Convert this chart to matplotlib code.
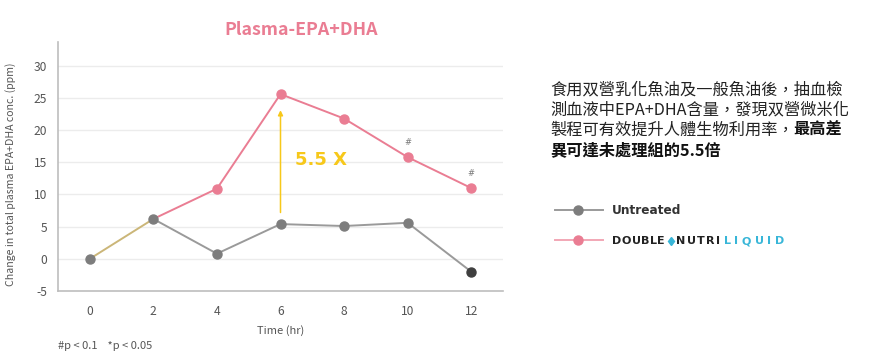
import matplotlib
matplotlib.use("Agg")
import matplotlib.pyplot as plt

plt.rcParams['font.family'] = ['Noto Sans CJK TC', 'DejaVu Sans']

time_hr = [0, 2, 4, 6, 8, 10, 12]
untreated = [0.0, 6.2, 0.8, 5.4, 5.1, 5.6, -2.0]
liquid = [0.0, 6.2, 10.9, 25.6, 21.8, 15.8, 11.0]
x_ticks = [0, 2, 4, 6, 8, 10, 12]
y_ticks = [-5, 0, 5, 10, 15, 20, 25, 30]
sig_times = [10, 12]
fold_label = "5.5 X"

W, H = 869, 359
fig = plt.figure(figsize=(W / 100, H / 100), dpi=100)
fig.patch.set_facecolor('white')

def fx(px):
    return px / W

def fy(py):
    return 1 - py / H

ax = fig.add_axes([fx(58), fy(291), fx(503) - fx(58), fy(42) - fy(291)])

PINK = '#ea7d93'
GRAY_LINE = '#9a9a9a'
GRAY_MK = '#7d7d7d'
TAN = '#cbb678'
GOLD = '#f7c81a'
CYAN = '#38b6d8'

ax.set_xlim(-1, 13)
ax.set_ylim(-5, 33.7)
for yv in y_ticks[1:]:
    ax.axhline(yv, color='#ececec', lw=1.0, zorder=0)

# lines
ax.plot(time_hr[1:], liquid[1:], color=PINK, lw=1.4, zorder=2)
ax.plot(time_hr[1:], untreated[1:], color=GRAY_LINE, lw=1.4, zorder=2)
ax.plot(time_hr[:2], untreated[:2], color=TAN, lw=1.4, zorder=2)

# markers
ax.plot(time_hr[2:], liquid[2:], 'o', color=PINK, ms=6.5, mec=PINK, zorder=3)
ax.plot(time_hr[:-1], untreated[:-1], 'o', color=GRAY_MK, ms=6.5, mec=GRAY_MK, zorder=4)
ax.plot(time_hr[-1:], untreated[-1:], 'o', color='#3f3f3f', ms=6.5, mec='#3f3f3f', zorder=4)

# significance marks
for t in sig_times:
    i = time_hr.index(t)
    ax.annotate('#', (t, liquid[i]), xytext=(0, 7), textcoords='offset points',
                ha='center', va='bottom', fontsize=6, color='#777777',
                family='DejaVu Sans')

# arrow
ax.annotate('', xy=(6, 23.1), xytext=(6, 7.2),
            arrowprops=dict(arrowstyle='-|>', color=GOLD, lw=1.1,
                            mutation_scale=7, shrinkA=0, shrinkB=0), zorder=1)
ax.text(6.45, 15.3, fold_label, color=GOLD, fontsize=13, fontweight='bold',
        va='center', ha='left', family='DejaVu Sans')

# axes styling
for s in ['top', 'right']:
    ax.spines[s].set_visible(False)
ax.spines['left'].set_color('#bdbdbd')
ax.spines['bottom'].set_color('#bdbdbd')
ax.spines['left'].set_linewidth(1.2)
ax.spines['bottom'].set_linewidth(1.2)
ax.set_xticks(x_ticks)
ax.set_yticks(y_ticks)
ax.set_yticklabels([str(v) for v in y_ticks])
ax.tick_params(length=0, labelsize=8.7, colors='#555555', pad=10)
ax.tick_params(axis='y', pad=8)
ax.set_xlabel('Time (hr)', fontsize=8, color='#555555', labelpad=5)
ax.set_ylabel('Change in total plasma EPA+DHA conc. (ppm)', fontsize=7.6,
              color='#555555', labelpad=8)
ax.yaxis.set_label_coords(-0.095, 0.47)

# title
fig.text(fx(301), fy(30), 'Plasma-EPA+DHA', color=PINK, fontsize=12.8,
         fontweight='bold', ha='center', va='center')

# footnote
fig.text(fx(58), fy(346), '#p < 0.1    *p < 0.05', fontsize=8, color='#555555',
         ha='left', va='center')

# right-side description
fs = 11.7
lines_y = [90, 110, 130, 150]
fig.text(fx(550), fy(lines_y[0]), '食用双營乳化魚油及一般魚油後，抽血檢', fontsize=fs,
         color='#222222', ha='left', va='center')
fig.text(fx(550), fy(lines_y[1]), '測血液中EPA+DHA含量，發現双營微米化', fontsize=fs,
         color='#222222', ha='left', va='center')
normal3 = '製程可有效提升人體生物利用率，'
fig.text(fx(550), fy(lines_y[2]), normal3, fontsize=fs,
         color='#222222', ha='left', va='center')
fig.text(fx(550) + len(normal3) * fs / 72 * 100 / W, fy(lines_y[2]), '最高差',
         fontsize=fs, color='#111111', fontweight='bold', ha='left', va='center')
fig.text(fx(550), fy(lines_y[3]), '異可達未處理組的5.5倍', fontsize=fs,
         color='#111111', fontweight='bold', ha='left', va='center')

# legend
leg_ax = fig.add_axes([0, 0, 1, 1], facecolor='none')
leg_ax.set_xlim(0, W)
leg_ax.set_ylim(H, 0)
leg_ax.axis('off')
leg_ax.plot([555, 603], [210, 210], color=GRAY_LINE, lw=1.4)
leg_ax.plot([578], [210], 'o', color=GRAY_MK, ms=6.5)
leg_ax.plot([555, 603], [240, 240], color='#f2a7b6', lw=1.4)
leg_ax.plot([578], [240], 'o', color=PINK, ms=6.5)
leg_ax.text(612, 210, 'Untreated', fontsize=8.7, fontweight='bold', color='#333333',
            ha='left', va='center', family='DejaVu Sans')

fig.canvas.draw()
renderer = fig.canvas.get_renderer()

def spaced(word, x0, x1, color, weight, size=8):
    texts = [leg_ax.text(0, 241, ch, fontsize=size, fontweight=weight, color=color,
                         ha='left', va='center', family='DejaVu Sans') for ch in word]
    widths = [t.get_window_extent(renderer).width for t in texts]
    gap = ((x1 - x0) - sum(widths)) / (len(word) - 1)
    x = x0
    for t, w in zip(texts, widths):
        t.set_x(x)
        x += w + gap

spaced('DOUBLE', 612, 665, '#222222', 'bold')
leg_ax.plot([671], [241], marker='d', color=CYAN, ms=4.5)
spaced('NUTRI', 676, 720, '#222222', 'bold')
spaced('LIQUID', 724, 784, CYAN, 'bold')

fig.savefig('out.png', dpi=100, facecolor='white')
